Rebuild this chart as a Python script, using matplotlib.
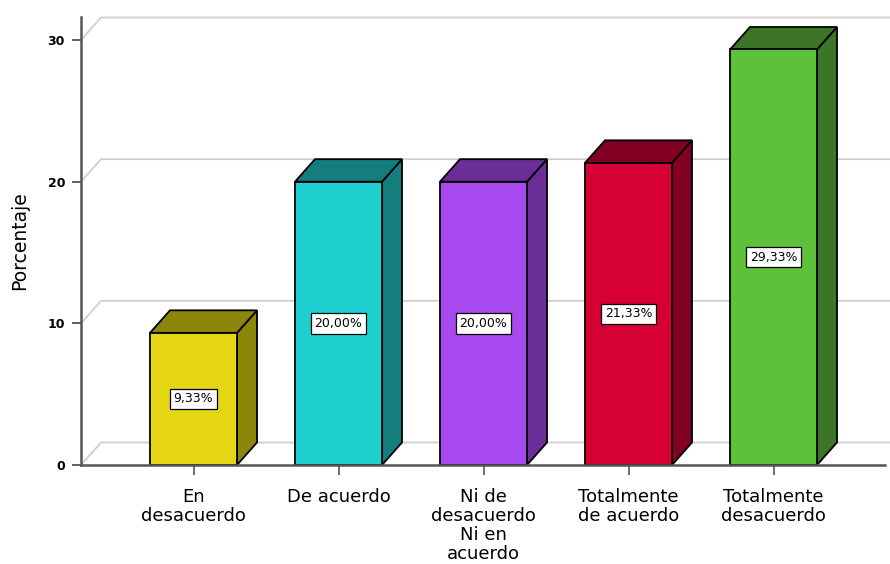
import matplotlib
matplotlib.use("Agg")
import matplotlib.pyplot as plt
from matplotlib.patches import Polygon

categories = ["En\ndesacuerdo", "De acuerdo", "Ni de\ndesacuerdo\nNi en\nacuerdo",
              "Totalmente\nde acuerdo", "Totalmente\ndesacuerdo"]
values = [9.33, 20.00, 20.00, 21.33, 29.33]
front_colors = ["#E5D615", "#1ECFCF", "#A848EF", "#D70034", "#5EC13A"]
side_colors = ["#8C860A", "#147E7E", "#6B2D97", "#820023", "#3C7526"]
yticks = [0, 10, 20, 30]

W, H = 890, 564
fig = plt.figure(figsize=(W / 100, H / 100), dpi=100)
fig.patch.set_facecolor("white")

px_cat = 145.0
px_unit = (465 - 40) / 30.0
ax_left_px, ax_right_px, ax_bot_px, ax_top_px = 81, 890, 465, 17
ax = fig.add_axes([ax_left_px / W, (H - ax_bot_px) / H,
                   (ax_right_px - ax_left_px) / W, (ax_bot_px - ax_top_px) / H])
xmin = -(193.5 - ax_left_px) / px_cat
xmax = (ax_right_px - 193.5) / px_cat
ax.set_xlim(xmin, xmax)
ax.set_ylim(0, (ax_bot_px - ax_top_px) / px_unit)

DX = 20 / px_cat
DY = 22.5 / px_unit
hw = 43.5 / px_cat

# gridlines with 3D back-wall effect
for v in yticks:
    ax.plot([xmin, xmin + DX, xmax], [v, v + DY, v + DY], color="#cfcfcf",
            lw=1.3, zorder=1, clip_on=False, solid_joinstyle="miter")

for i, (v, cf, cs) in enumerate(zip(values, front_colors, side_colors)):
    front = [(i - hw, 0), (i + hw, 0), (i + hw, v), (i - hw, v)]
    side = [(i + hw, 0), (i + hw + DX, DY), (i + hw + DX, v + DY), (i + hw, v)]
    top = [(i - hw, v), (i - hw + DX, v + DY), (i + hw + DX, v + DY), (i + hw, v)]
    for pts, c in ((side, cs), (top, cs), (front, cf)):
        ax.add_patch(Polygon(pts, closed=True, facecolor=c, edgecolor="black",
                             lw=1.3, zorder=3, joinstyle="miter"))
    lab = f"{v:.2f}".replace(".", ",") + "%"
    ax.text(i, v / 2, lab, ha="center", va="center", fontsize=9, zorder=5,
            bbox=dict(boxstyle="square,pad=0.3", fc="white", ec="black", lw=0.9))

for s in ("top", "right"):
    ax.spines[s].set_visible(False)
ax.spines["left"].set_color("#555555")
ax.spines["left"].set_linewidth(1.8)
ax.spines["bottom"].set_color("#555555")
ax.spines["bottom"].set_linewidth(1.8)
ax.spines["bottom"].set_bounds(xmin, (885 - 193.5) / px_cat)
ax.spines["bottom"].set_zorder(4)

ax.set_yticks(yticks)
ax.set_yticklabels([str(t) for t in yticks], fontsize=9, fontweight="bold")
ax.tick_params(axis="y", length=6.5, width=1.3, color="#555555", pad=5)
ax.set_xticks(range(len(categories)))
ax.set_xticklabels(categories, fontsize=13, linespacing=1.08)
ax.tick_params(axis="x", length=7.5, width=1.2, color="#555555", pad=9)
ax.set_ylabel("Porcentaje", fontsize=13.5, labelpad=13)
ax.set_facecolor("white")

fig.savefig("out.png", dpi=100, facecolor="white")
